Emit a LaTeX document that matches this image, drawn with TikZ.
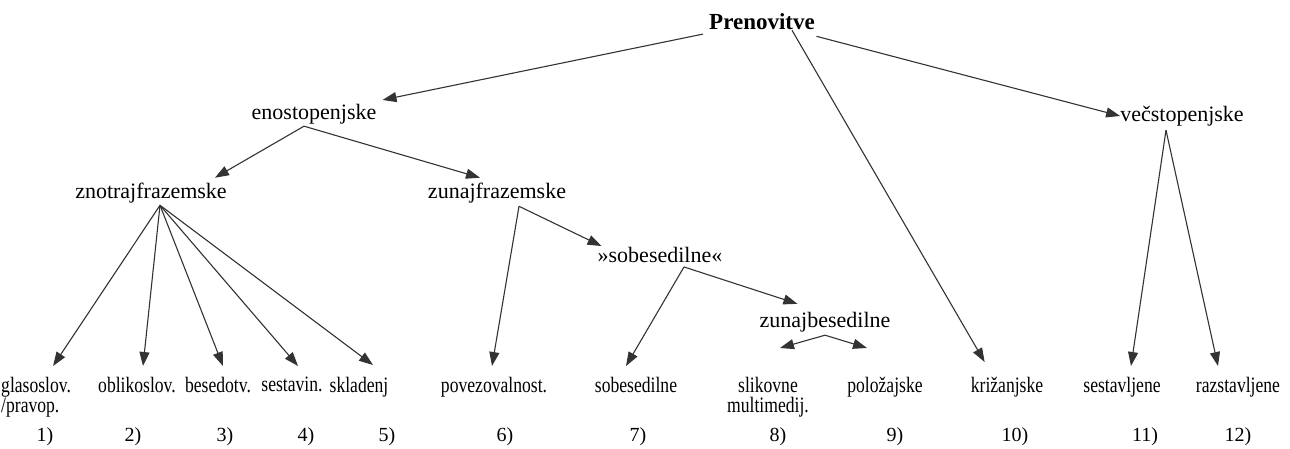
\documentclass[tikz,border=0pt]{standalone}
\usepackage{fontspec}
\setmainfont{Liberation Serif}
\newfontfamily\condfont[FakeStretch=0.8]{Liberation Serif}
\usetikzlibrary{arrows.meta,positioning,calc}

\begin{document}
\begin{tikzpicture}[x=1pt,y=-1pt,
    lbl/.style={inner sep=0pt,font=\fontsize{22}{24}\selectfont},
    leaf/.style={inner sep=0pt,anchor=north,font=\condfont\fontsize{22}{20}\selectfont},
    num/.style={inner sep=0pt,font=\fontsize{20}{22}\selectfont},
    arr/.style={-{Triangle[length=14pt,width=10pt]},draw=black!80,line width=1.1pt}]
    \useasboundingbox[fill=white] (0,0) rectangle (1290,448);

    % Top levels
    \node[lbl,inner sep=6pt,font={\fontsize{23}{26}\selectfont\bfseries}] (pren) at (762,22) {Prenovitve};
    \node[lbl,inner sep=6pt] (eno) at (314,114) {enostopenjske};
    \node[lbl] (vec) at (1182,116) {večstopenjske};
    \node[lbl] (znot) at (151,193) {znotrajfrazemske};
    \node[lbl] (zun) at (497,193) {zunajfrazemske};
    \node[lbl] (sob) at (660,255) {»sobesedilne«};
    \node[lbl] (zunb) at (825,322) {zunajbesedilne};

    % Leaves
    \node[leaf,anchor=north west,align=left] (glas) at (1,377) {glasoslov.\\/pravop.};
    \node[leaf] (obl) at (137,377) {oblikoslov.};
    \node[leaf] (bes) at (218,377) {besedotv.};
    \node[leaf] (sest) at (292,377) {sestavin.};
    \node[leaf] (skl) at (359,377) {skladenj};
    \node[leaf] (pov) at (494,377) {povezovalnost.};
    \node[leaf] (sobe) at (636,377) {sobesedilne};
    \node[leaf,align=center] (slik) at (768,377) {slikovne\\multimedij.};
    \node[leaf] (pol) at (885,377) {položajske};
    \node[leaf] (kriz) at (1007,377) {križanjske};
    \node[leaf] (sestav) at (1122,377) {sestavljene};
    \node[leaf] (razst) at (1238,377) {razstavljene};

    % Numbers
    \foreach \i/\x in {1/45,2/133,3/225,4/306,5/387,6/505,7/638,8/778,9/895,10/1015,11/1145,12/1238}
        \node[num] (n\i) at (\x,437) {\i)};

    % Arrows from the top
    \draw[arr] (pren) -- (eno);
    \draw[arr] (pren) -- (vec.west);
    \draw[arr] ($(pren.south)+(30,-6)$) -- ($(kriz.north west)+(14,-15)$);

    % enostopenjske
    \coordinate (enoF) at ($(eno.south)+(-10,-4)$);
    \draw[arr] (enoF) -- ($(znot.north east)+(-12,-5)$);
    \draw[arr] (enoF) -- ($(zun.north)+(-17,-5)$);

    % znotrajfrazemske
    \coordinate (znotF) at ($(znot.south)+(9,2)$);
    \draw[arr] (znotF) -- ($(glas.north)+(17,-11)$);
    \draw[arr] (znotF) -- ($(obl.north)+(6,-11)$);
    \draw[arr] (znotF) -- ($(bes.north)+(5,-11)$);
    \draw[arr] (znotF) -- ($(sest.north)+(6,-11)$);
    \draw[arr] (znotF) -- ($(skl.north)+(14,-12)$);

    % zunajfrazemske
    \coordinate (zunF) at ($(zun.south)+(22,3)$);
    \draw[arr] (zunF) -- ($(pov.north)+(-2,-11)$);
    \draw[arr] (zunF) -- ($(sob.north west)+(4,-1)$);

    % sobesedilne
    \coordinate (sobF) at ($(sob.south)+(24,4)$);
    \draw[arr] (sobF) -- ($(sobe.north)+(-10,-11)$);
    \draw[arr] (sobF) -- ($(zunb.north west)+(38,-8)$);

    % zunajbesedilne
    \coordinate (zunbF) at ($(zunb.south)+(0,3)$);
    \draw[arr] (zunbF) -- ($(slik.north)+(12,-29)$);
    \draw[arr] (zunbF) -- ($(pol.north)+(-18,-29)$);

    % vecstopenjske
    \coordinate (vecF) at ($(vec.south)+(-16,4)$);
    \draw[arr] (vecF) -- ($(sestav.north)+(9,-11)$);
    \draw[arr] (vecF) -- ($(razst.north)+(-20,-11)$);
\end{tikzpicture}
\end{document}
